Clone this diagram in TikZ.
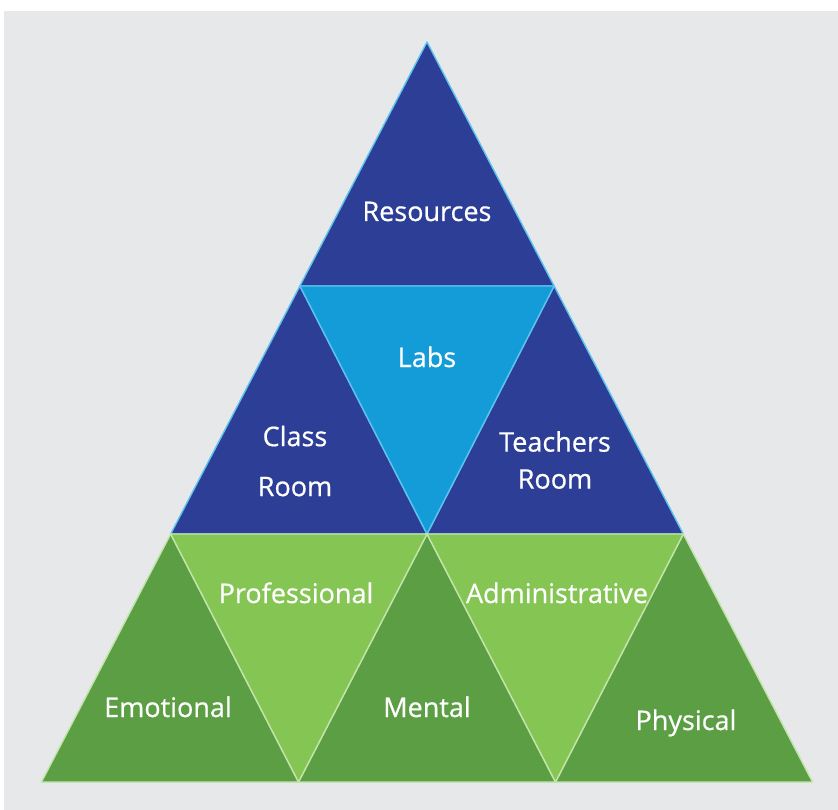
\documentclass[tikz,border=0pt]{standalone}
\usepackage{fontspec}
\newfontfamily\lblfont{Open Sans}[FakeBold=0.6]
\definecolor{bg}{HTML}{E7E8EA}
\definecolor{dblue}{HTML}{2D3E96}
\definecolor{lblue}{HTML}{149CD8}
\definecolor{bstroke}{HTML}{5CC3EE}
\definecolor{dgreen}{HTML}{5B9E44}
\definecolor{lgreen}{HTML}{84C553}
\definecolor{gstroke}{HTML}{C2E4AA}
\begin{document}
\begin{tikzpicture}[x=1pt,y=-1pt,
  tri/.style={line width=1.4pt,line join=round},
  bluetri/.style={tri,fill=dblue,draw=bstroke},
  labtri/.style={tri,fill=lblue,draw=bstroke},
  greentri/.style={tri,fill=dgreen,draw=gstroke},
  lgreentri/.style={tri,fill=lgreen,draw=gstroke},
  lbl/.style={text=white,font=\lblfont\fontsize{27}{32}\selectfont,anchor=base,inner sep=0pt},
  lbltwo/.style={text=white,align=center,inner sep=0pt}]
\useasboundingbox (0,0) rectangle (838,810);
\fill[white] (0,0) rectangle (838,810);
\fill[bg] (4,11) rectangle (838,810);
% grid vertices
\coordinate (A) at (427,42);
\coordinate (B1) at (299.9,286);
\coordinate (B2) at (554.1,286);
\coordinate (C1) at (170.7,534);
\coordinate (C2) at (427,534);
\coordinate (C3) at (683.3,534);
\coordinate (D1) at (41.5,782);
\coordinate (D2) at (298.5,782);
\coordinate (D3) at (555.5,782);
\coordinate (D4) at (812.5,782);
% top row
\filldraw[bluetri] (A) -- (B1) -- (B2) -- cycle;
% middle row
\filldraw[bluetri] (B1) -- (C1) -- (C2) -- cycle;
\filldraw[bluetri] (B2) -- (C2) -- (C3) -- cycle;
\filldraw[labtri] (B1) -- (B2) -- (C2) -- cycle;
% bottom row
\filldraw[greentri] (C1) -- (D1) -- (D2) -- cycle;
\filldraw[greentri] (C2) -- (D2) -- (D3) -- cycle;
\filldraw[greentri] (C3) -- (D3) -- (D4) -- cycle;
\filldraw[lgreentri] (C1) -- (C2) -- (D2) -- cycle;
\filldraw[lgreentri] (C2) -- (C3) -- (D3) -- cycle;
% labels
\node[lbl] (resources) at (427,221) {Resources};
\node[lbl] (labs) at (427,367) {Labs};
\node[lbltwo,font=\lblfont\fontsize{27}{50}\selectfont] (classroom) at (295,461) {Class\\Room};
\node[lbltwo,font=\lblfont\fontsize{27}{37}\selectfont] (teachersroom) at (555,460) {Teachers\\Room};
\node[lbl] (professional) at (296,603) {Professional};
\node[lbl] (administrative) at (557,603) {Administrative};
\node[lbl] (emotional) at (168,717) {Emotional};
\node[lbl] (mental) at (427,717) {Mental};
\node[lbl] (physical) at (686,730) {Physical};
\end{tikzpicture}
\end{document}
